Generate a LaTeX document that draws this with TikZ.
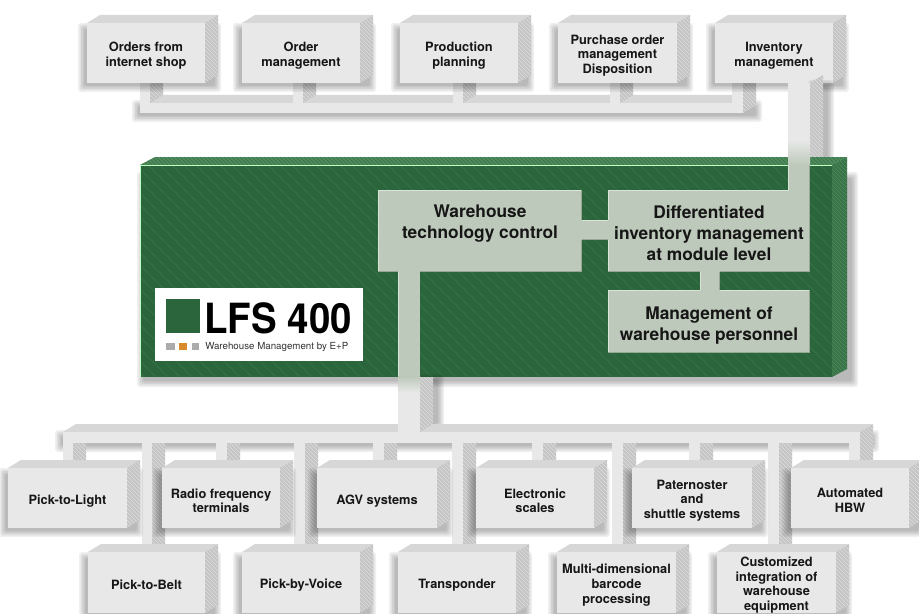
\documentclass[tikz,border=0pt]{standalone}
\usepackage{fontspec}
\setmainfont{TeX Gyre Heros}
\usetikzlibrary{patterns}
\definecolor{frontgray}{HTML}{E8E8E8}
\definecolor{topgray}{HTML}{D7D7D7}
\definecolor{sidegray}{HTML}{C4C4C4}
\definecolor{hatchgray}{HTML}{DEDEDE}
\definecolor{blockgreen}{HTML}{2B653C}
\definecolor{hatchgreen}{HTML}{3A764B}
\definecolor{topgreen}{HTML}{4F8A5C}
\definecolor{sidegreen}{HTML}{397449}
\definecolor{sage}{HTML}{BDC9BA}
\definecolor{sagelight}{HTML}{DCE4D9}
\definecolor{sagedark}{HTML}{98A794}
\definecolor{txt}{HTML}{161616}
\definecolor{logoorange}{HTML}{D98B2B}
\definecolor{logogray}{HTML}{ABABAB}
\newcommand{\softshadow}[4]{%
  \foreach \s in {0,1.5,3,4.5,6}{\fill[black,opacity=0.06,rounded corners=2pt] (#1-\s,#2-\s) rectangle (#3+\s,#4+\s);}}
\newcommand{\tfaces}[4]{%
  \fill[topgray] (#1,#2) -- (#3,#2) -- (#3+13,#2-8) -- (#1+13,#2-8) -- cycle;
  \fill[sidegray] (#3,#2) -- (#3+13,#2-8) -- (#3+13,#4-8) -- (#3,#4) -- cycle;
  \fill[pattern=north west lines, pattern color=hatchgray] (#3,#2) -- (#3+13,#2-8) -- (#3+13,#4-8) -- (#3,#4) -- cycle;}
\newcommand{\sface}[4]{%
  \fill[sidegray] (#3,#2) -- (#3+13,#2-8) -- (#3+13,#4-8) -- (#3,#4) -- cycle;
  \fill[pattern=north west lines, pattern color=hatchgray] (#3,#2) -- (#3+13,#2-8) -- (#3+13,#4-8) -- (#3,#4) -- cycle;}
\newcommand{\gbox}[6]{%
  \softshadow{#2-3}{#3+6}{#4+10}{#5+3}
  \tfaces{#2}{#3}{#4}{#5}
  \fill[frontgray] (#2,#3) rectangle (#4,#5);
  \node[boxtext] (#1) at ({(#2+#4)/2},{(#3+#5)/2+2.7}) {#6};}
\begin{document}
\begin{tikzpicture}[x=0.75pt,y=-0.75pt,
  boxtext/.style={align=center,font=\fontsize{9.6}{11.1}\selectfont\bfseries,text=txt,inner sep=0pt},
  bigtext/.style={align=center,font=\fontsize{13}{15.75}\selectfont\bfseries,text=txt,inner sep=0pt}]
\clip (0,0) rectangle (919,613);
\fill[white] (0,0) rectangle (919,613);

% ---------- top bus ----------
\softshadow{138}{106}{756}{116}
\tfaces{140}{103}{743}{113}
\foreach \a/\b in {140/150,293/303,453/463,610/620,732/743}{\sface{\a}{83}{\b}{103}}
\fill[frontgray] (140,103) rectangle (743,113);
\foreach \a/\b in {140/150,293/303,453/463,610/620,732/743}{\fill[frontgray] (\a,83) rectangle (\b,103);}

% ---------- top boxes ----------
\gbox{t1}{87}{23}{205}{83}{Orders from\\internet shop}
\gbox{t2}{242}{23}{360}{83}{Order\\management}
\gbox{t3}{400}{23}{518}{83}{Production\\planning}
\gbox{t4}{558}{23}{677}{83}{Purchase order\\management\\Disposition}
\gbox{t5}{715}{23}{833}{83}{Inventory\\management}

% ---------- inventory link (outside) ----------
\softshadow{814}{86}{828}{160}
\fill[sidegray] (810,83) -- (823,75) -- (823,157) -- (810,165) -- cycle;
\fill[pattern=north west lines, pattern color=hatchgray] (810,83) -- (823,75) -- (823,157) -- (810,165) -- cycle;

% ---------- green block ----------
\softshadow{143}{178}{852}{381}
\fill[topgreen] (140,165) -- (832,165) -- (847,157) -- (155,157) -- cycle;
\fill[pattern=north west lines, pattern color=blockgreen!60!topgreen] (140,165) -- (832,165) -- (847,157) -- (155,157) -- cycle;
\fill[sidegreen] (832,165) -- (847,157) -- (847,369) -- (832,377) -- cycle;
\fill[pattern=north west lines, pattern color=topgreen] (832,165) -- (847,157) -- (847,369) -- (832,377) -- cycle;
\fill[blockgreen] (140,165) rectangle (832,377);
\begin{scope}
\clip (140,165) rectangle (832,377);
\foreach \x in {-80,-68,...,832}{\draw[hatchgreen,line width=0.45pt] (\x,165) -- (\x+212,377);}
\end{scope}
\draw[green!25!white,line width=0.7pt] (140.5,377) -- (140.5,165.5) -- (832,165.5);

% inventory link front
\fill[frontgray] (788,83) rectangle (810,140);
\shade[top color=frontgray,bottom color=sage] (788,140) rectangle (810,165.6);

% ---------- sage modules ----------
\fill[sage] (378,190) rectangle (582,272);
\fill[sage] (581,220) rectangle (609,240);
\fill[sage] (608,190) rectangle (810,272);
\fill[sage] (788,165) rectangle (810,191);
\fill[sage] (700,271) rectangle (720,291);
\fill[sage] (608,290) rectangle (810,353);
\fill[sage] (398,271) rectangle (420,377);
% bevel edges
\begin{scope}[line width=0.8pt]
\draw[sagelight] (378.5,272) -- (378.5,190.5) -- (582,190.5);
\draw[sagedark] (378,271.5) -- (398,271.5) (420,271.5) -- (581.5,271.5) -- (581.5,240) (581.5,220) -- (581.5,190);
\draw[sagelight] (608.5,220) -- (608.5,190.5) -- (788,190.5) (608.5,240) -- (608.5,272);
\draw[sagedark] (608,271.5) -- (700,271.5) (720,271.5) -- (809.5,271.5) -- (809.5,165);
\draw[sagelight] (608.5,353) -- (608.5,290.5) -- (700,290.5) (720,290.5) -- (810,290.5);
\draw[sagedark] (608,352.5) -- (809.5,352.5) -- (809.5,290);
\draw[sagelight] (788.5,165) -- (788.5,190.5);
\draw[sagelight] (398.5,272) -- (398.5,377);
\draw[sagelight] (582,220.5) -- (608,220.5) (700.5,272) -- (700.5,290);
\draw[sagedark] (582,239.5) -- (608,239.5) (719.5,272) -- (719.5,290);
\end{scope}
\node[bigtext] (wtc) at (480,224) {Warehouse\\technology control};
\node[bigtext] (dim) at (709,233) {Differentiated\\inventory management\\at module level};
\node[bigtext] (mwp) at (709,326) {Management of\\warehouse personnel};

% ---------- logo ----------
\fill[white] (155,288) rectangle (363,361);
\fill[blockgreen] (166,299) rectangle (200,333);
\node[anchor=base west,inner sep=0pt,font=\fontsize{31.2}{32}\selectfont\bfseries] (lfs) at (204,333) {\scalebox{0.925}[1]{LFS 400}};
\fill[logogray] (166,343) rectangle (175,350);
\fill[logoorange] (179,343) rectangle (187,350);
\fill[logogray] (192,343) rectangle (199,350);
\node[anchor=west,inner sep=0pt,font=\fontsize{7.3}{8}\selectfont,text=black!80] (lsub) at (205,347) {Warehouse Management by E+P};

% ---------- bottom bus ----------
\softshadow{61}{436}{873}{446}
\softshadow{426}{380}{438}{424}
\tfaces{63}{432}{860}{443}
\fill[sidegray] (420,377) -- (433,377) -- (433,424) -- (420,432) -- cycle;
\fill[pattern=north west lines, pattern color=hatchgray] (420,377) -- (433,377) -- (433,424) -- (420,432) -- cycle;
\foreach \a/\b in {63/73,216/227,373/384,532/543,689/700,849/860}{\sface{\a}{443}{\b}{468}}
\foreach \a/\b in {142/152,294/305,452/463,612/623,768/779}{\sface{\a}{443}{\b}{552}}
\fill[frontgray] (63,432) rectangle (860,443);
\foreach \a/\b in {63/73,216/227,373/384,532/543,689/700,849/860}{\fill[frontgray] (\a,442) rectangle (\b,468);}
\foreach \a/\b in {142/152,294/305,452/463,612/623,768/779}{\fill[frontgray] (\a,442) rectangle (\b,552);}
\fill[frontgray] (398,392) rectangle (420,433);
\shade[top color=sage,bottom color=frontgray] (398,376.5) rectangle (420,392.5);

% ---------- row 1 ----------
\gbox{b1}{8}{468}{127}{528}{Pick-to-Light}
\gbox{b2}{162}{468}{280}{528}{Radio frequency\\terminals}
\gbox{b3}{317}{468}{437}{528}{AGV systems}
\gbox{b4}{476}{468}{594}{528}{Electronic\\scales}
\gbox{b5}{632}{468}{752}{528}{Paternoster\\and\\shuttle systems}
\gbox{b6}{791}{468}{909}{528}{Automated\\HBW}

% ---------- row 2 ----------
\gbox{c1}{88}{552}{205}{613}{Pick-to-Belt}
\gbox{c2}{242}{552}{360}{613}{Pick-by-Voice}
\gbox{c3}{398}{552}{516}{613}{Transponder}
\gbox{c4}{557}{552}{676}{613}{Multi-dimensional\\barcode\\processing}
\gbox{c5}{717}{552}{836}{613}{Customized\\integration of\\warehouse\\equipment}
\end{tikzpicture}
\end{document}
